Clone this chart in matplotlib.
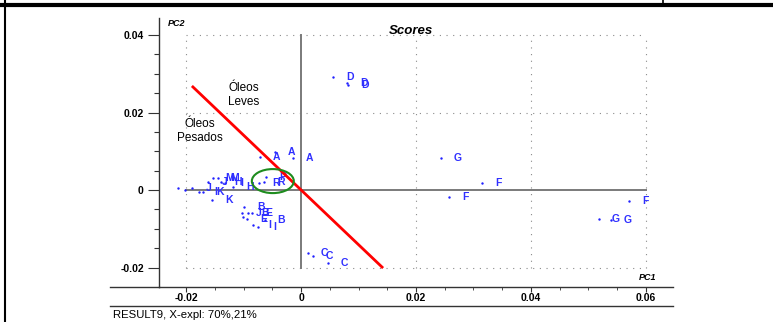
import matplotlib
matplotlib.use("Agg")
import matplotlib.pyplot as plt
from matplotlib.lines import Line2D
from matplotlib.patches import Ellipse

plt.rcParams["font.family"] = ["Liberation Sans", "DejaVu Sans"]

# PCA scores (PC1, PC2)
labels = ["A", "A", "A", "D", "D", "D", "G", "F", "F", "F", "G", "G",
          "C", "C", "C",
          "J", "I", "K", "K", "J", "M", "M", "H", "I", "H",
          "R", "R", "P",
          "B", "J", "B", "E", "E", "I", "B", "I",
          "", "", ""]
pc1 = [-0.0071, -0.0045, -0.0014, 0.0056, 0.0080, 0.0082, 0.0244, 0.0315, 0.0257, 0.0570, 0.0518, 0.0539,
       0.0012, 0.0021, 0.0047,
       -0.0190, -0.0177, -0.0170, -0.0155, -0.0162, -0.0153, -0.0144, -0.0139, -0.0132, -0.0118,
       -0.0073, -0.0064, -0.0061,
       -0.0099, -0.0103, -0.0092, -0.0085, -0.0094, -0.0084, -0.0063, -0.0075,
       -0.0214, -0.0202, -0.0101]
pc2 = [0.0085, 0.0098, 0.0083, 0.0292, 0.0276, 0.0271, 0.0083, 0.0018, -0.0018, -0.0028, -0.0075, -0.0077,
       -0.0163, -0.0170, -0.0188,
       0.0005, -0.0005, -0.0005, -0.0026, 0.0021, 0.0031, 0.0031, 0.0021, 0.0018, 0.0008,
       0.0018, 0.0021, 0.0034,
       -0.0044, -0.0059, -0.0059, -0.0059, -0.0075, -0.0090, -0.0077, -0.0096,
       0.0005, 0.0000, -0.0070]

xticks = [-0.02, 0, 0.02, 0.04, 0.06]
xticklabels = ["-0.02", "0", "0.02", "0.04", "0.06"]
yticks = [-0.02, 0, 0.02, 0.04]
yticklabels = ["-0.02", "0", "0.02", "0.04"]

# separating line and highlighted group
sep_x = [-0.0188, 0.0141]
sep_y = [0.0266, -0.0199]
ell_center = (-0.0049, 0.0023)
ell_size = (0.0073, 0.0062)

W, H = 773, 322
fig = plt.figure(figsize=(W / 100, H / 100), dpi=100)
ax = fig.add_axes([159 / W, (H - 287) / H, (673 - 159) / W, (287 - 18) / H])
ax.set_xlim(-0.024696, 0.064696)
ax.set_ylim(-0.025032, 0.044387)

# dotted grid inside the box
for gx in [-0.02, 0.02, 0.04, 0.06]:
    ax.plot([gx, gx], [-0.02, 0.04], color="#8a8a8a", lw=0.8, dashes=(1, 5), zorder=1)
for gy in [-0.02, 0.02, 0.04]:
    ax.plot([-0.02, 0.06], [gy, gy], color="#8a8a8a", lw=0.8, dashes=(1, 5), zorder=1)
ax.plot([0, 0], [-0.02, 0.04], color="#7a7a7a", lw=1.4, zorder=1)
ax.plot([-0.02, 0.06], [0, 0], color="#7a7a7a", lw=1.4, zorder=1)

ax.scatter(pc1, pc2, s=3, color="#2020ff", zorder=3, linewidths=0)
for lab, x, y in zip(labels, pc1, pc2):
    if lab:
        ax.annotate(lab, (x, y), xytext=(12, 0), textcoords="offset points",
                    ha="center", va="center", fontsize=7.5, fontweight="bold",
                    color="#3030ff", zorder=4)

ax.plot(sep_x, sep_y, color="#ff0000", lw=2.0, zorder=5)
ax.add_patch(Ellipse(ell_center, ell_size[0], ell_size[1], fill=False,
                     ec="#1e8c1e", lw=1.5, zorder=5))

ax.text(-0.0099, 0.0245, "Óleos\nLeves", ha="center", va="center", fontsize=8.5,
        linespacing=1.15)
ax.text(-0.0176, 0.0152, "Óleos\nPesados", ha="center", va="center", fontsize=8.5,
        linespacing=1.15)

for s in ["top", "right"]:
    ax.spines[s].set_visible(False)
for s in ["left", "bottom"]:
    ax.spines[s].set_color("#333333")
    ax.spines[s].set_linewidth(1.0)

ax.set_xticks(xticks)
ax.set_xticklabels(xticklabels)
ax.set_yticks(yticks)
ax.set_yticklabels(yticklabels)
ax.set_xticks([v / 1000 for v in range(-20, 61, 5)], minor=True)
ax.set_yticks([v / 1000 for v in range(-20, 41, 5)], minor=True)
ax.tick_params(axis="x", which="major", length=3.6, width=0.8, pad=1, labelsize=7.5,
               colors="#333333", labelcolor="black")
ax.tick_params(axis="x", which="minor", length=1.8, width=0.6, colors="#333333")
ax.tick_params(axis="y", which="major", length=7.9, width=0.8, pad=3, labelsize=7.5,
               colors="#333333", labelcolor="black")
ax.tick_params(axis="y", which="minor", length=3.6, width=0.8, colors="#333333")
for t in ax.get_xticklabels() + ax.get_yticklabels():
    t.set_fontweight("bold")

def fx(px):
    return px / W

def fy(py):
    return (H - py) / H

# titles and axis names
fig.text(fx(411), fy(31), "Scores", ha="center", va="center", fontsize=9.5,
         fontweight="bold", style="italic")
fig.text(fx(168), fy(24), "PC2", ha="left", va="center", fontsize=6.5,
         fontweight="bold", style="italic")
fig.text(fx(656), fy(277), "PC1", ha="right", va="center", fontsize=6.5,
         fontweight="bold", style="italic")
fig.text(fx(113), fy(315), "RESULT9, X-expl: 70%,21%", ha="left", va="center",
         fontsize=8.2)

# ruler lines and frame
fig.add_artist(Line2D([fx(110), fx(159)], [fy(287), fy(287)], color="#333333", lw=1.0))
fig.add_artist(Line2D([fx(110), fx(673)], [fy(306), fy(306)], color="#333333", lw=1.0))
fig.add_artist(Line2D([0, 1], [fy(5), fy(5)], color="black", lw=3.0))
fig.add_artist(Line2D([fx(5), fx(5)], [0, 1], color="black", lw=1.5))
fig.add_artist(Line2D([fx(663), fx(663)], [fy(0), fy(5)], color="black", lw=1.2))

fig.savefig("out.png", dpi=100)
plt.close(fig)
